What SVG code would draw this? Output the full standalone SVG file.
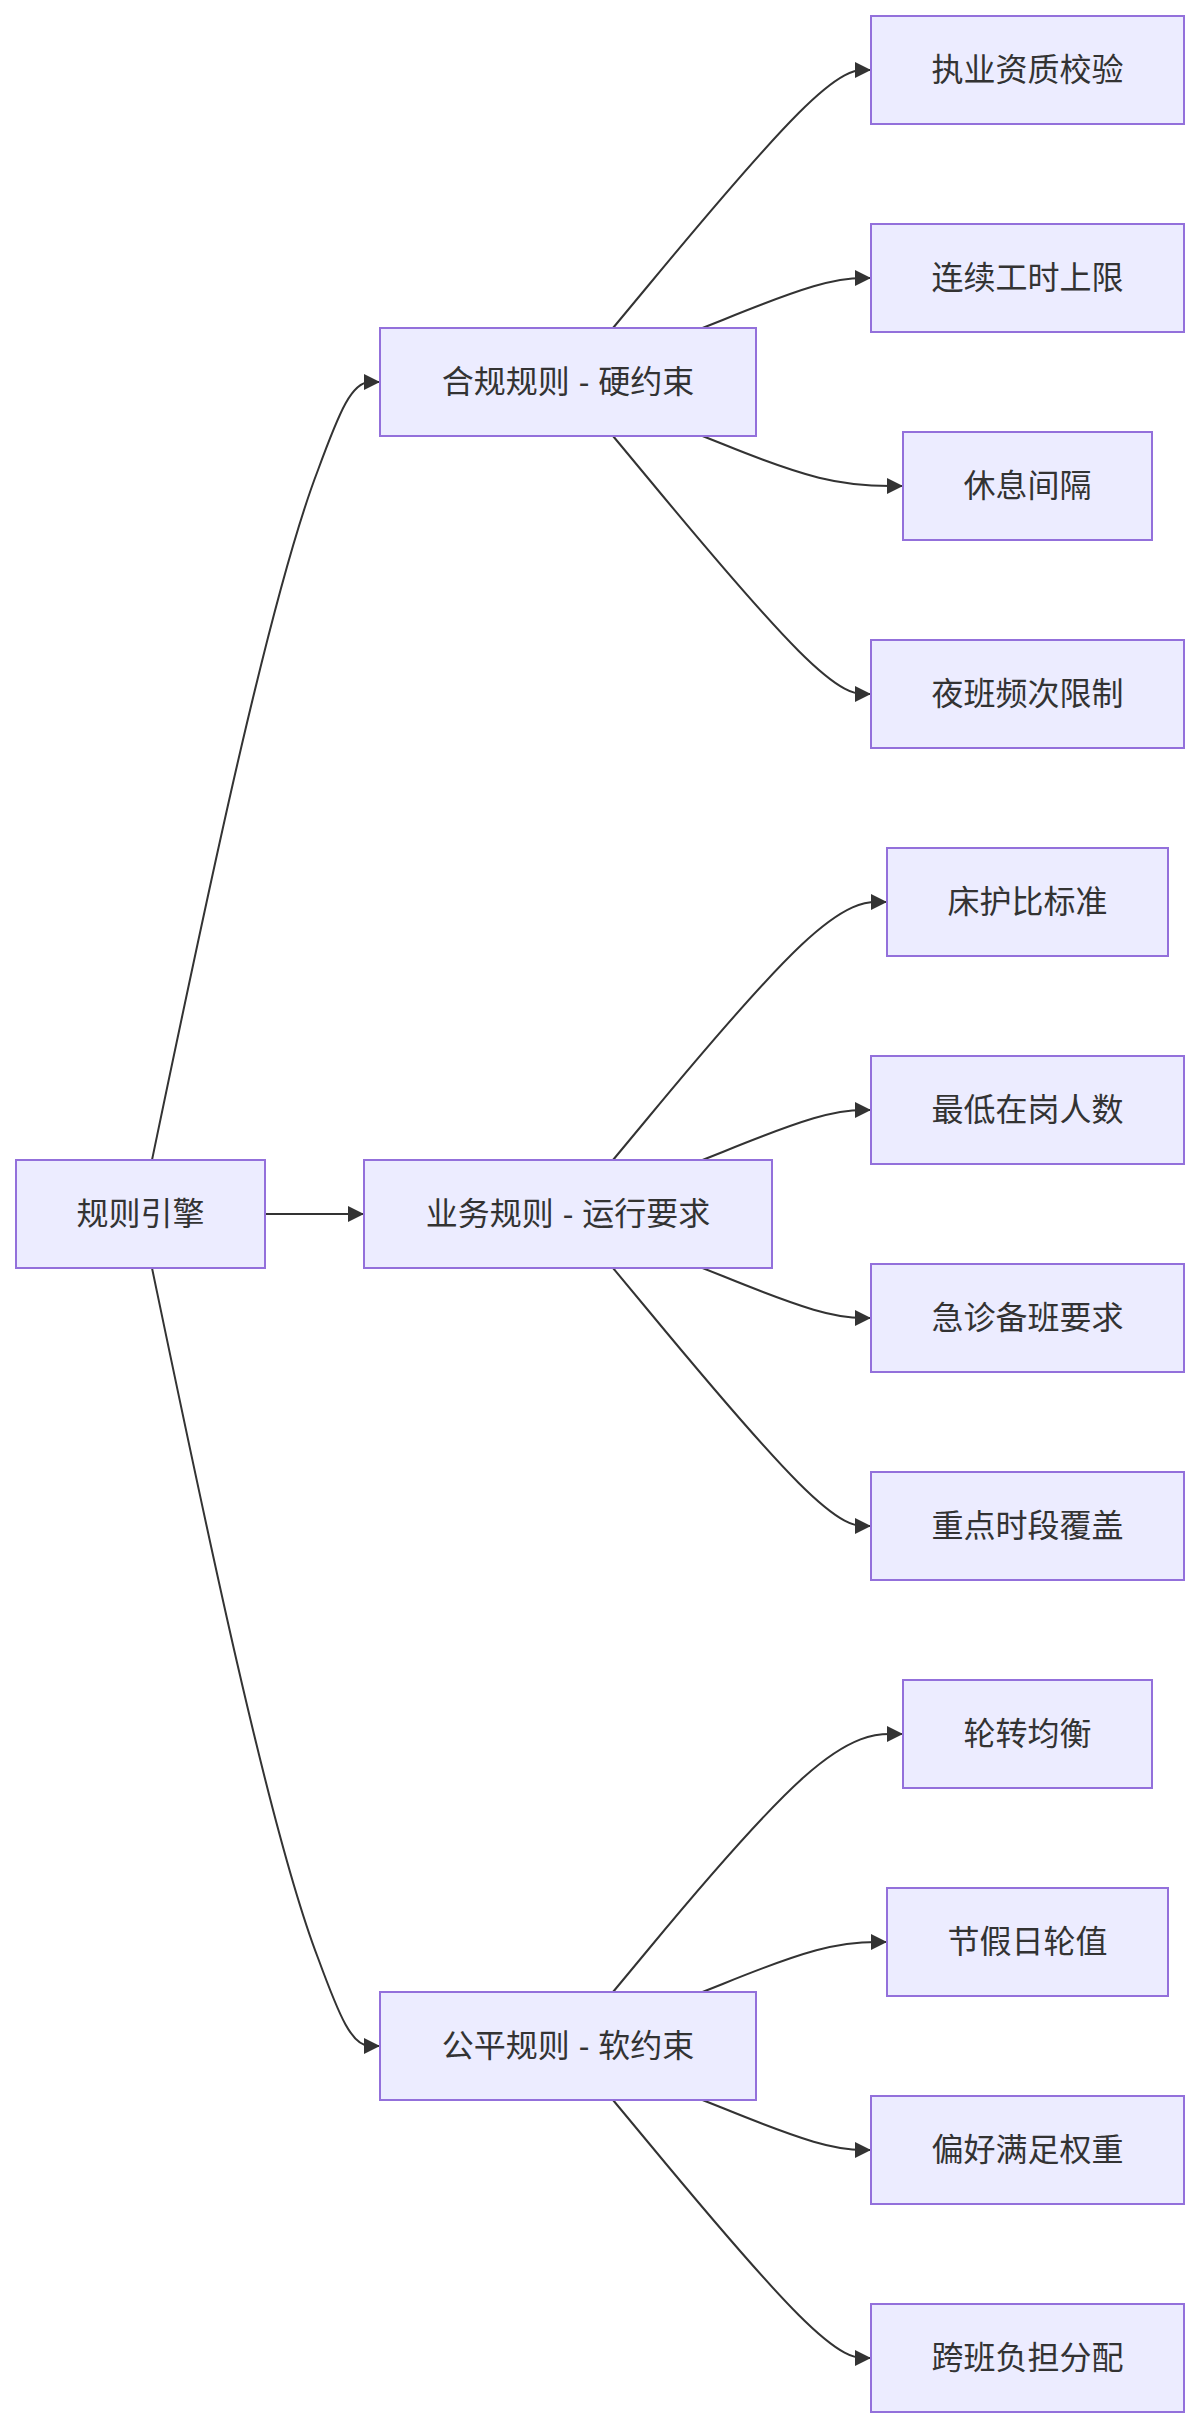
<svg xmlns="http://www.w3.org/2000/svg" width="1199" height="2428" viewBox="0 0 1199 2428">
<style>
.node rect{fill:#ECECFF;stroke:#9370DB;stroke-width:2}
.node text{fill:#333333;font-family:"Liberation Sans","Noto Sans CJK SC",sans-serif;font-size:32px;text-anchor:middle;dominant-baseline:central}
.edge{fill:none;stroke:#333333;stroke-width:2;marker-end:url(#arrow)}
</style>
<defs>
<marker id="arrow" viewBox="0 0 10 10" refX="10" refY="5" markerUnits="userSpaceOnUse" markerWidth="16" markerHeight="16" orient="auto">
<path d="M0,0 L10,5 L0,10 z" fill="#333333"/>
</marker>
</defs>
<rect width="1199" height="2428" fill="#ffffff"/>
<g id="connectors">
<path class="edge" d="M152,1160 C200,930 268,600 318,470 C340,410 352,382 370,382 L380,382"/>
<path class="edge" d="M265,1214 L364,1214"/>
<path class="edge" d="M152,1268 C200,1498 268,1828 318,1958 C340,2018 352,2046 370,2046 L380,2046"/>
<path class="edge" d="M613,328 L648.7,285 C684.3,242 755.7,156 798.7,113 C841.7,70 856.3,70 863.7,70 L871,70"/>
<path class="edge" d="M702.5,328 L723.3,319.7 C744,311.3 785.5,294.7 813.6,286.3 C841.7,278 856.3,278 863.7,278 L871,278"/>
<path class="edge" d="M702.5,436 L723.3,444.3 C744,452.7 785.5,469.3 818.9,477.7 C852.3,486 877.7,486 890.3,486 L903,486"/>
<path class="edge" d="M613,436 L648.7,479 C684.3,522 755.7,608 798.7,651 C841.7,694 856.3,694 863.7,694 L871,694"/>
<path class="edge" d="M613,1160 L648.7,1117 C684.3,1074 755.7,988 801.3,945 C847,902 867,902 877,902 L887,902"/>
<path class="edge" d="M702.5,1160 L723.3,1151.7 C744,1143.3 785.5,1126.7 813.6,1118.3 C841.7,1110 856.3,1110 863.7,1110 L871,1110"/>
<path class="edge" d="M702.5,1268 L723.3,1276.3 C744,1284.7 785.5,1301.3 813.6,1309.7 C841.7,1318 856.3,1318 863.7,1318 L871,1318"/>
<path class="edge" d="M613,1268 L648.7,1311 C684.3,1354 755.7,1440 798.7,1483 C841.7,1526 856.3,1526 863.7,1526 L871,1526"/>
<path class="edge" d="M613,1992 L648.7,1949 C684.3,1906 755.7,1820 804,1777 C852.3,1734 877.7,1734 890.3,1734 L903,1734"/>
<path class="edge" d="M702.5,1992 L723.3,1983.7 C744,1975.3 785.5,1958.7 816.3,1950.3 C847,1942 867,1942 877,1942 L887,1942"/>
<path class="edge" d="M702.5,2100 L723.3,2108.3 C744,2116.7 785.5,2133.3 813.6,2141.7 C841.7,2150 856.3,2150 863.7,2150 L871,2150"/>
<path class="edge" d="M613,2100 L648.7,2143 C684.3,2186 755.7,2272 798.7,2315 C841.7,2358 856.3,2358 863.7,2358 L871,2358"/>
</g>
<g id="root" class="node"><rect x="16" y="1160" width="249" height="108"/><text x="140.5" y="1214">规则引擎</text></g>
<g id="compliance" class="node"><rect x="380" y="328" width="376" height="108"/><text x="568" y="382">合规规则 - 硬约束</text></g>
<g id="business" class="node"><rect x="364" y="1160" width="408" height="108"/><text x="568" y="1214">业务规则 - 运行要求</text></g>
<g id="fairness" class="node"><rect x="380" y="1992" width="376" height="108"/><text x="568" y="2046">公平规则 - 软约束</text></g>
<g id="c1" class="node"><rect x="871" y="16" width="313" height="108"/><text x="1027.5" y="70">执业资质校验</text></g>
<g id="c2" class="node"><rect x="871" y="224" width="313" height="108"/><text x="1027.5" y="278">连续工时上限</text></g>
<g id="c3" class="node"><rect x="903" y="432" width="249" height="108"/><text x="1027.5" y="486">休息间隔</text></g>
<g id="c4" class="node"><rect x="871" y="640" width="313" height="108"/><text x="1027.5" y="694">夜班频次限制</text></g>
<g id="b1" class="node"><rect x="887" y="848" width="281" height="108"/><text x="1027.5" y="902">床护比标准</text></g>
<g id="b2" class="node"><rect x="871" y="1056" width="313" height="108"/><text x="1027.5" y="1110">最低在岗人数</text></g>
<g id="b3" class="node"><rect x="871" y="1264" width="313" height="108"/><text x="1027.5" y="1318">急诊备班要求</text></g>
<g id="b4" class="node"><rect x="871" y="1472" width="313" height="108"/><text x="1027.5" y="1526">重点时段覆盖</text></g>
<g id="f1" class="node"><rect x="903" y="1680" width="249" height="108"/><text x="1027.5" y="1734">轮转均衡</text></g>
<g id="f2" class="node"><rect x="887" y="1888" width="281" height="108"/><text x="1027.5" y="1942">节假日轮值</text></g>
<g id="f3" class="node"><rect x="871" y="2096" width="313" height="108"/><text x="1027.5" y="2150">偏好满足权重</text></g>
<g id="f4" class="node"><rect x="871" y="2304" width="313" height="108"/><text x="1027.5" y="2358">跨班负担分配</text></g>
</svg>
